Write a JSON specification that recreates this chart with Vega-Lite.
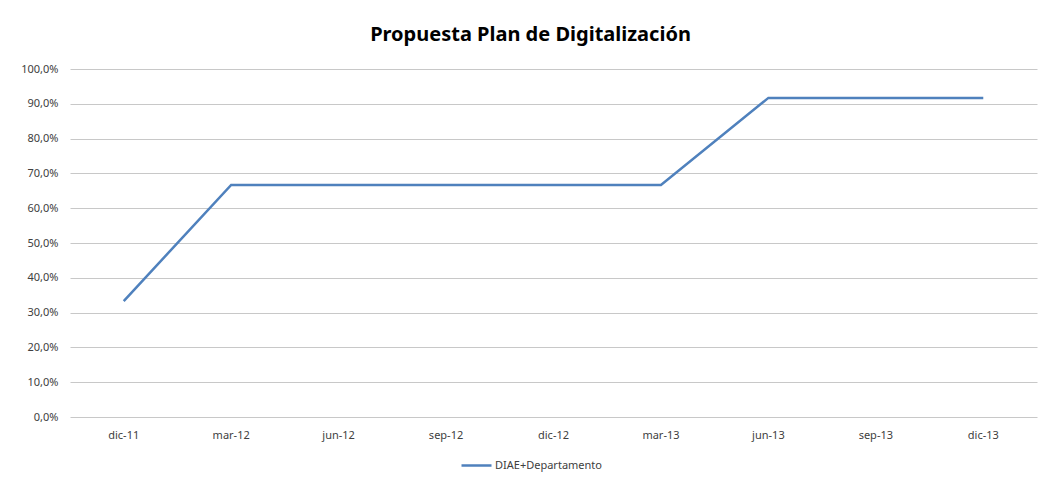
{
  "$schema": "https://vega.github.io/schema/vega-lite/v6.json",
  "width": 967,
  "height": 348,
  "autosize": {"type": "none"},
  "padding": {"left": 70, "top": 69, "right": 2, "bottom": 60},
  "background": "white",
  "config": {
    "locale": {"number": {"decimal": ",", "thousands": ".", "grouping": [3], "currency": ["", " €"]}},
    "view": {"stroke": null},
    "font": "Noto Sans"
  },
  "title": {
    "text": "Propuesta Plan de Digitalización",
    "fontSize": 20,
    "fontWeight": "bold",
    "font": "Noto Sans",
    "color": "#000000",
    "anchor": "middle",
    "dx": -23,
    "offset": 18
  },
  "data": {
    "values": [
      {"fecha": "dic-11", "serie": "DIAE+Departamento", "valor": 0.333},
      {"fecha": "mar-12", "serie": "DIAE+Departamento", "valor": 0.667},
      {"fecha": "jun-12", "serie": "DIAE+Departamento", "valor": 0.667},
      {"fecha": "sep-12", "serie": "DIAE+Departamento", "valor": 0.667},
      {"fecha": "dic-12", "serie": "DIAE+Departamento", "valor": 0.667},
      {"fecha": "mar-13", "serie": "DIAE+Departamento", "valor": 0.667},
      {"fecha": "jun-13", "serie": "DIAE+Departamento", "valor": 0.917},
      {"fecha": "sep-13", "serie": "DIAE+Departamento", "valor": 0.917},
      {"fecha": "dic-13", "serie": "DIAE+Departamento", "valor": 0.917}
    ]
  },
  "mark": {"type": "line", "strokeWidth": 2.5},
  "encoding": {
    "x": {
      "field": "fecha",
      "type": "ordinal",
      "sort": null,
      "scale": {"type": "band", "paddingInner": 0, "paddingOuter": 0},
      "axis": {
        "title": null,
        "labelAngle": 0,
        "ticks": false,
        "domain": false,
        "grid": false,
        "labelPadding": 12,
        "labelFontSize": 11,
        "labelColor": "#404040"
      }
    },
    "y": {
      "field": "valor",
      "type": "quantitative",
      "scale": {"domain": [0, 1], "nice": false},
      "axis": {
        "title": null,
        "format": ".1%",
        "values": [0, 0.1, 0.2, 0.3, 0.4, 0.5, 0.6, 0.7, 0.8, 0.9, 1.0],
        "ticks": false,
        "domain": false,
        "gridColor": "#c8c8c8",
        "gridWidth": 1,
        "labelPadding": 12,
        "labelFontSize": 11,
        "labelColor": "#404040"
      }
    },
    "color": {
      "field": "serie",
      "type": "nominal",
      "scale": {"range": ["#4F81BD"]},
      "legend": {
        "title": null,
        "orient": "none",
        "legendX": 390,
        "legendY": 380,
        "symbolType": "stroke",
        "symbolSize": 900,
        "symbolStrokeWidth": 2.5,
        "labelFontSize": 11,
        "labelColor": "#404040",
        "labelOffset": 2
      }
    }
  }
}
